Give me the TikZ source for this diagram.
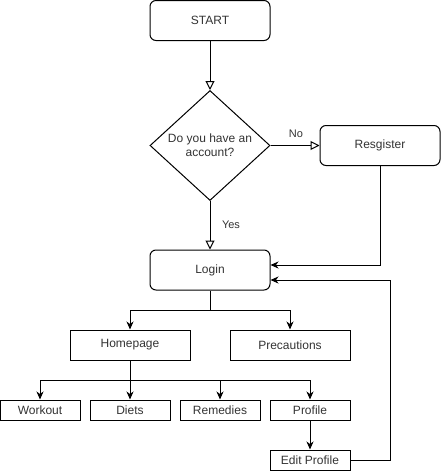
\documentclass[tikz,border=0pt]{standalone}
\usepackage{fontspec}
\setmainfont{Liberation Sans}
\usetikzlibrary{arrows.meta,shapes.geometric}
\begin{document}
\begin{tikzpicture}[x=1pt,y=-1pt,line width=1pt,
  font=\fontsize{12}{14}\selectfont,
  rbox/.style={draw,rounded corners=6pt,minimum width=120pt,minimum height=40pt,inner sep=0pt,text=black!80},
  sbox/.style={draw,minimum width=120pt,minimum height=30pt,inner sep=0pt,text=black!80},
  small/.style={draw,minimum width=80pt,minimum height=20pt,inner sep=0pt,text=black!80},
  dia/.style={draw,diamond,aspect=1.09,minimum width=120pt,minimum height=110pt,inner sep=0pt,align=center,text=black!80},
  oarr/.style={-{Triangle[open,length=9pt,width=9pt]}},
  farr/.style={-{Stealth[length=8pt,width=7pt,inset=2.5pt]}},
  lab/.style={font=\fontsize{11}{13}\selectfont,text=black!80}]
\useasboundingbox (0,0) rectangle (441,471);
\node[rbox] (start) at (210,20.5) {START};
\node[dia] (q) at (210,145.5) {};
\node[align=center,text=black!80] at (210,145) {Do you have an\\account?};
\node[rbox] (reg) at (380,145.5) {Resgister};
\node[rbox] (login) at (210,270) {Login};
\node[sbox] (home) at (130,345) {Homepage};
\node[sbox] (prec) at (290,345) {Precautions};
\node[small] (work) at (40,410) {Workout};
\node[small] (diet) at (130,410) {Diets};
\node[small] (rem) at (220,410) {Remedies};
\node[small] (prof) at (310,410) {Profile};
\node[small] (edit) at (310,460) {Edit Profile};
\coordinate (b1) at (210,310);
\coordinate (b2) at (130,380);
\coordinate (r1) at (380,265);
\coordinate (e1) at (390,460);
\coordinate (e2) at (390,280);
\draw[oarr] (start.south) -- (q.north);
\draw[oarr] (q.east) -- (reg.west);
\node[lab] at (296,134) {No};
\draw[oarr] (q.south) -- (login.north);
\node[lab] at (231,225) {Yes};
\draw[farr] (reg.south) -- (r1) -- (login.east |- r1);
\draw (login.south) -- (b1);
\draw[farr] (b1) -| (home.north);
\draw[farr] (b1) -| (prec.north);
\draw (home.south) -- (b2);
\draw[farr] (b2) -| (work.north);
\draw[farr] (b2) -- (diet.north);
\draw[farr] (b2) -| (rem.north);
\draw[farr] (b2) -| (prof.north);
\draw[farr] (prof.south) -- (edit.north);
\draw[farr] (edit.east) -- (e1) -- (e2) -- (login.east |- e2);
\end{tikzpicture}
\end{document}
